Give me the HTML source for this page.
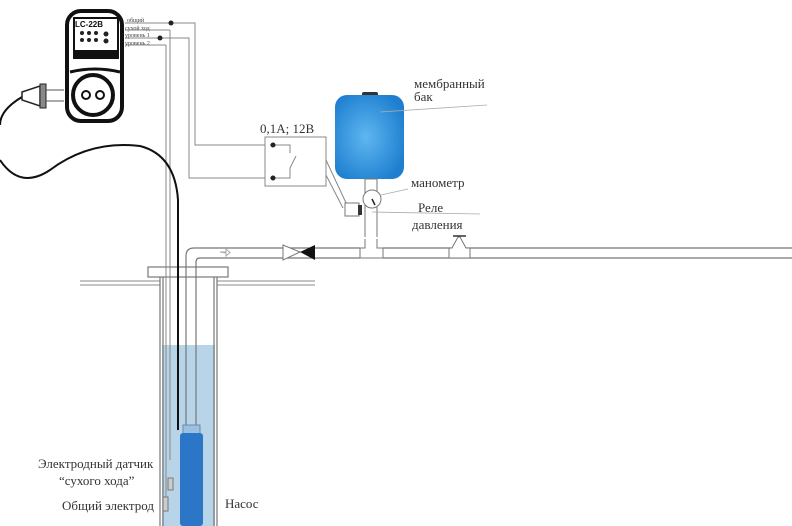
<!DOCTYPE html>
<html><head><meta charset="utf-8"><style>
body{margin:0;background:#fff;}
svg{display:block;font-family:"Liberation Serif",serif;}
</style></head><body>
<svg width="792" height="526" viewBox="0 0 792 526" xmlns="http://www.w3.org/2000/svg">
<defs>
<radialGradient id="tg" cx="0.45" cy="0.5" r="0.6"><stop offset="0" stop-color="#5fb6f0"/><stop offset="1" stop-color="#1e7fd0"/></radialGradient>
</defs>
<!-- water -->
<rect x="162" y="345" width="53" height="181" fill="#b8d4e8"/>
<!-- ground -->
<g stroke="#888" stroke-width="1" fill="none">
<line x1="80" y1="281" x2="160" y2="281"/><line x1="80" y1="285" x2="160" y2="285"/>
<line x1="217" y1="281" x2="315" y2="281"/><line x1="217" y1="285" x2="315" y2="285"/>
</g>
<!-- casing -->
<g stroke="#777" stroke-width="1.2" fill="none">
<line x1="160" y1="277" x2="160" y2="526"/><line x1="163" y1="277" x2="163" y2="526"/>
<line x1="214" y1="277" x2="214" y2="526"/><line x1="217" y1="277" x2="217" y2="526"/>
<rect x="148" y="267" width="80" height="10" fill="#fff"/>
<!-- outlet pipe -->
<path d="M186 430 V256 Q186 248 194 248 H792"/>
<path d="M196 430 V262 Q196 258 200 258 H792"/>
</g>
<!-- wires -->
<g stroke="#888" stroke-width="1" fill="none">
<line x1="166" y1="45" x2="166" y2="510"/>
<line x1="170" y1="30" x2="170" y2="460"/>
<path d="M125 23 H195 V145 H265"/>
<path d="M125 38 H189 V178 H265"/>
<path d="M125 30 H170"/><path d="M125 45 H166"/>
<rect x="265" y="137" width="61" height="49"/>
<line x1="326" y1="160" x2="347" y2="205"/>
<line x1="326" y1="175" x2="343" y2="208"/>
<path d="M270 145 H290 V153"/><path d="M270 178 H290 V168"/><line x1="290" y1="168" x2="296" y2="156"/>
</g>
<circle cx="171" cy="23" r="2.5" fill="#222"/><circle cx="160" cy="38" r="2.5" fill="#222"/>
<circle cx="273" cy="145" r="2.5" fill="#222"/><circle cx="273" cy="178" r="2.5" fill="#222"/>
<!-- black cable -->
<path d="M0 160 Q20 190 50 170 Q90 140 140 146 Q175 155 178 200 V430" stroke="#111" stroke-width="2" fill="none"/>
<path d="M22 97 Q0 110 0 125" stroke="#111" stroke-width="2" fill="none"/>
<!-- plug -->
<path d="M22 92 L40 86 V106 L22 100Z" fill="#fff" stroke="#222" stroke-width="1.5"/>
<rect x="40" y="84" width="6" height="24" fill="#888" stroke="#222"/>
<line x1="46" y1="90" x2="64" y2="90" stroke="#555"/><line x1="46" y1="101" x2="64" y2="101" stroke="#555"/>
<!-- controller -->
<rect x="67" y="11" width="55" height="110" rx="14" fill="#fff" stroke="#111" stroke-width="4"/>
<rect x="74" y="18" width="44" height="40" fill="#fff" stroke="#111" stroke-width="2"/>
<rect x="74" y="50" width="44" height="7" fill="#111"/>
<text x="75" y="27" font-size="8" font-weight="bold" fill="#111" font-family="Liberation Sans,sans-serif">LC-22B</text>
<g fill="#222"><circle cx="82" cy="33" r="2"/><circle cx="89" cy="33" r="2"/><circle cx="96" cy="33" r="2"/><circle cx="106" cy="34" r="2.5"/>
<circle cx="82" cy="40" r="2"/><circle cx="89" cy="40" r="2"/><circle cx="96" cy="40" r="2"/><circle cx="106" cy="41" r="2.5"/></g>
<path d="M70 72 Q95 66 120 72" stroke="#111" stroke-width="3" fill="none"/>
<circle cx="93" cy="95" r="20" fill="#fff" stroke="#111" stroke-width="4"/>
<circle cx="86" cy="95" r="4" fill="#fff" stroke="#111" stroke-width="2"/><circle cx="100" cy="95" r="4" fill="#fff" stroke="#111" stroke-width="2"/>
<g font-size="6" fill="#444"><text x="127" y="22">общий</text><text x="125" y="30">сухой ход</text><text x="125" y="37">уровень 1</text><text x="125" y="45">уровень 2</text></g>
<!-- tank -->
<rect x="362" y="92" width="16" height="5" rx="2" fill="#333"/>
<rect x="335" y="95" width="69" height="84" rx="12" fill="url(#tg)"/>
<g stroke="#777" stroke-width="1" fill="#fff">
<rect x="365" y="179" width="12" height="60"/>
<path d="M360 237 H383 V260 H360Z" stroke="none"/>
<path d="M365 239 V248 H360 V258 H383 V248 H377 V239"/>
<circle cx="372" cy="199" r="9"/>
<rect x="345" y="203" width="14" height="13"/>
<path d="M458 237 L452 248 H449 V258 H470 V248 H466 L460 237Z"/>
<path d="M283 245 L300 252 L283 260Z"/>
</g>
<line x1="453" y1="236" x2="466" y2="236" stroke="#333" stroke-width="1.5"/>
<rect x="358" y="205" width="4" height="10" fill="#333"/>
<line x1="372" y1="199" x2="375" y2="205" stroke="#222" stroke-width="1.5"/>
<path d="M315 245 L300 252 L315 260Z" fill="#111"/>
<path d="M220 252 H226 V249 L230 252.5 L226 256 V253 Z" fill="none" stroke="#aaa"/>
<!-- pump -->
<path d="M178 430 V345" stroke="#111" stroke-width="2"/>
<rect x="183" y="425" width="17" height="10" fill="#9cc0e0" stroke="#6b8ab0"/>
<rect x="180" y="433" width="23" height="93" rx="3" fill="#2b76c6"/>
<rect x="168" y="478" width="5" height="12" fill="#ccc" stroke="#777"/>
<rect x="163" y="497" width="5" height="14" fill="#ccc" stroke="#777"/>
<!-- leader lines -->
<g stroke="#aaa" stroke-width="0.8" fill="none">
<line x1="380" y1="112" x2="487" y2="105"/><line x1="381" y1="195" x2="408" y2="189"/><line x1="372" y1="212" x2="480" y2="214"/>
</g>
<g font-size="13" fill="#333">
<text x="414" y="88">мембранный</text><text x="414" y="101">бак</text>
<text x="260" y="133">0,1А; 12В</text>
<text x="411" y="187">манометр</text>
<text x="418" y="212">Реле</text><text x="412" y="229">давления</text>
<text x="38" y="468">Электродный датчик</text><text x="59" y="485">“сухого хода”</text>
<text x="62" y="510">Общий электрод</text>
<text x="225" y="508">Насос</text>
</g>
</svg>
</body></html>
